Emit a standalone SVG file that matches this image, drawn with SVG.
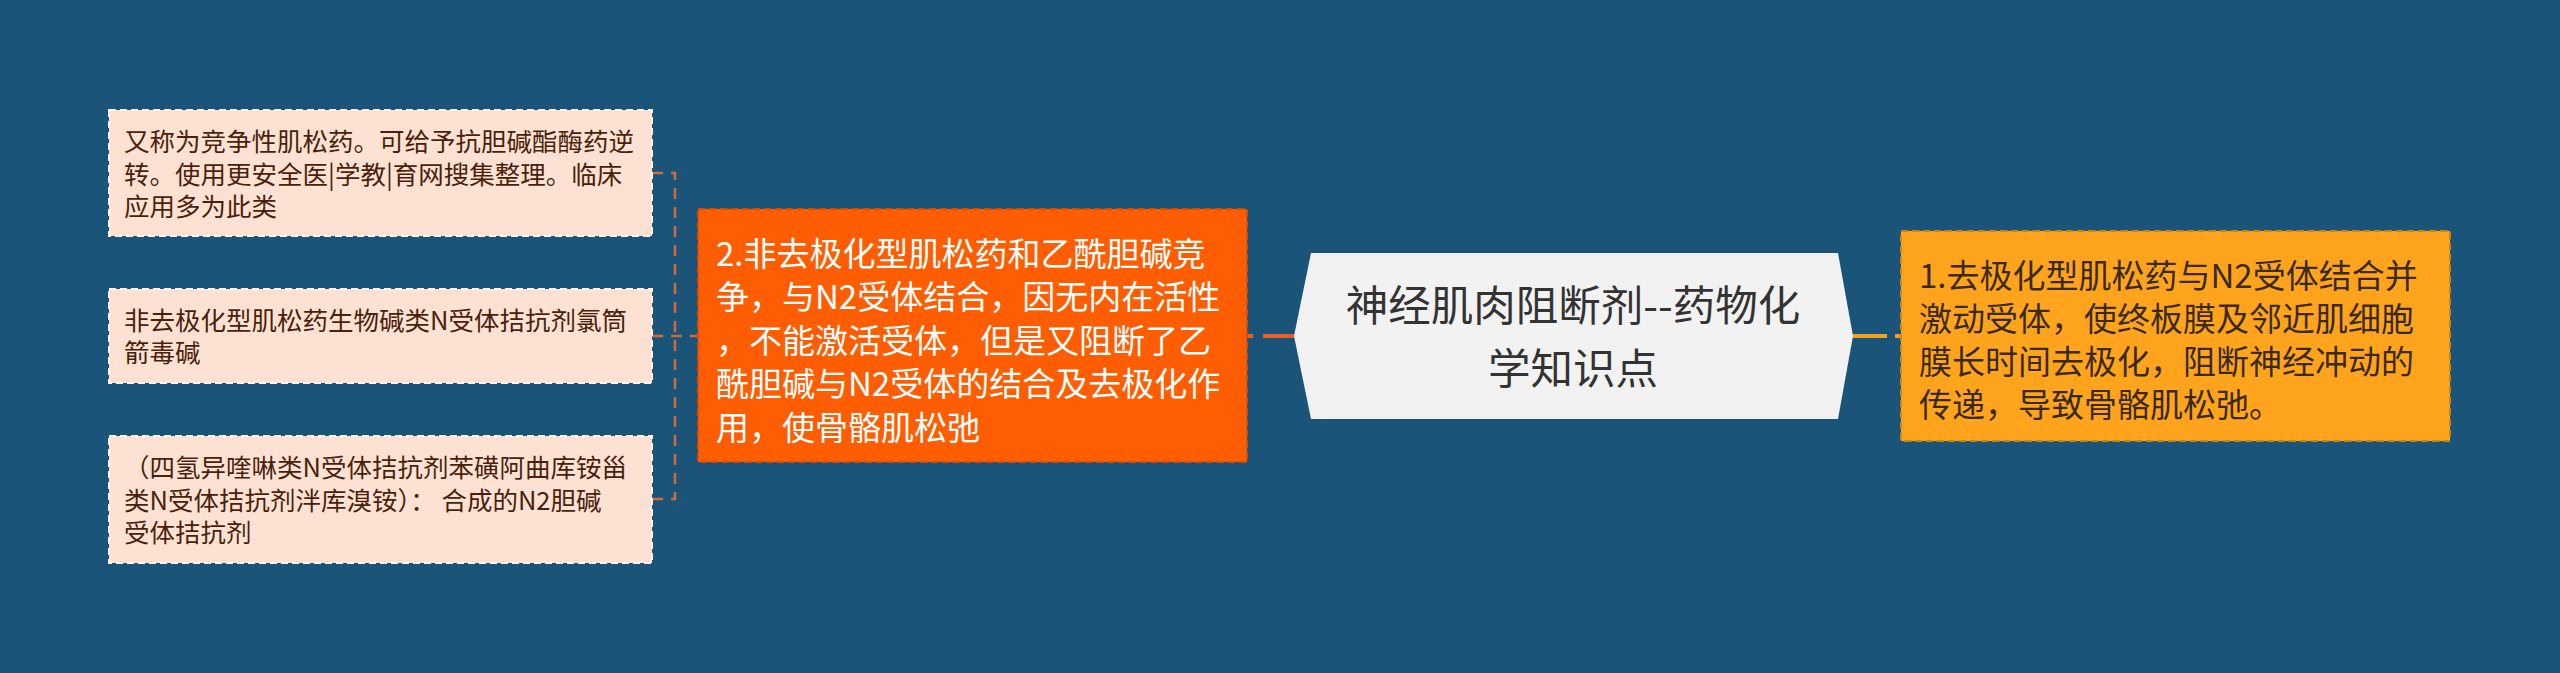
<svg xmlns="http://www.w3.org/2000/svg" width="2560" height="673" viewBox="0 0 2560 673">
<style>
text{font-family:"Noto Sans CJK SC","Noto Sans",sans-serif}
.leaf rect{fill:#fde2d3;stroke:#fff4ec;stroke-width:2;stroke-dasharray:7 4}
.leaf text{font-size:25.5px;fill:#4a1f0c}
.main2 rect{fill:#fe5d02;stroke:#d84c00;stroke-width:2;stroke-dasharray:7 4}
.main2 text{font-size:33px;fill:#ffffff}
.main1 rect{fill:#ffa41c;stroke:#c98614;stroke-width:2;stroke-dasharray:7 4}
.main1 text{font-size:33px;fill:#3a2a10}
.root polygon{fill:#f2f2f2}
.root text{font-size:42.5px;fill:#333333;text-anchor:middle}
.br{stroke:#cf6a3c;stroke-width:2.5;fill:none;stroke-dasharray:11 8}
</style>
<rect width="2560" height="673" fill="#1a5478"/>
<g id="connectors">
<path class="br" d="M652 173H675V499H652M652 336H698"/>
<line x1="1247" y1="336" x2="1294" y2="336" stroke="#e85e22" stroke-width="4" stroke-dasharray="6 10 32 0"/>
<line x1="1853" y1="336" x2="1901" y2="336" stroke="#f2a21e" stroke-width="4" stroke-dasharray="34 8"/>
</g>
<g id="root" class="root">
<polygon points="1294,336 1311,253 1838,253 1853,336 1838,419 1311,419"/>
<text x="1573" y="321">神经肌肉阻断剂--药物化</text>
<text x="1573" y="384">学知识点</text>
</g>
<g id="node1" class="main1">
<rect x="1901" y="231" width="549" height="210"/>
<text x="1919" y="287.5">1.去极化型肌松药与N2受体结合并</text>
<text x="1919" y="330.5">激动受体，使终板膜及邻近肌细胞</text>
<text x="1919" y="373.5">膜长时间去极化，阻断神经冲动的</text>
<text x="1919" y="416.5">传递，导致骨骼肌松弛。</text>
</g>
<g id="node2" class="main2">
<rect x="698" y="209" width="549" height="253"/>
<text x="716" y="265.5">2.非去极化型肌松药和乙酰胆碱竞</text>
<text x="716" y="309">争，与N2受体结合，因无内在活性</text>
<text x="716" y="352.5">，不能激活受体，但是又阻断了乙</text>
<text x="716" y="396">酰胆碱与N2受体的结合及去极化作</text>
<text x="716" y="439.5">用，使骨骼肌松弛</text>
</g>
<g id="leaf1" class="leaf">
<rect x="109" y="110" width="543" height="126"/>
<text x="124" y="151">又称为竞争性肌松药。可给予抗胆碱酯酶药逆</text>
<text x="124" y="183.5">转。使用更安全医|学教|育网搜集整理。临床</text>
<text x="124" y="216">应用多为此类</text>
</g>
<g id="leaf2" class="leaf">
<rect x="109" y="289" width="543" height="94"/>
<text x="124" y="329.5">非去极化型肌松药生物碱类N受体拮抗剂氯筒</text>
<text x="124" y="362">箭毒碱</text>
</g>
<g id="leaf3" class="leaf">
<rect x="109" y="436" width="543" height="127"/>
<text x="124" y="477">（四氢异喹啉类N受体拮抗剂苯磺阿曲库铵甾</text>
<text x="124" y="509.5">类N受体拮抗剂泮库溴铵）： 合成的N2胆碱</text>
<text x="124" y="542">受体拮抗剂</text>
</g>
</svg>
